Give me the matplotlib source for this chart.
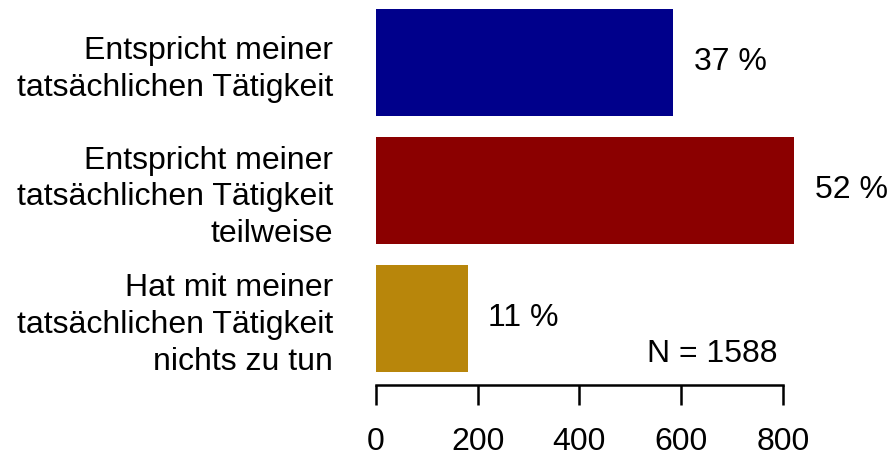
import matplotlib
matplotlib.use("Agg")
import matplotlib.pyplot as plt

plt.rcParams['font.family'] = ['Liberation Sans', 'DejaVu Sans']

# answer categories (top to bottom), counts and bar colours
categories = [
    "Entspricht meiner\ntatsächlichen Tätigkeit",
    "Entspricht meiner\ntatsächlichen Tätigkeit\nteilweise",
    "Hat mit meiner\ntatsächlichen Tätigkeit\nnichts zu tun",
]
counts = [585, 823, 180]
colors = ["#00008B", "#8B0000", "#B8860B"]
x_ticks = [0, 200, 400, 600, 800]
n_total = sum(counts)

FS = 23
W, H = 895, 459
fig = plt.figure(figsize=(W / 100, H / 100), dpi=100)

# axes placed in pixel terms: x=0 at 376px, 200 units ~ 101.7px
x0_px, bottom_px = 376, 385
px_per_unit = 101.7 / 200
xmax = 900
ax_w = xmax * px_per_unit
ax = fig.add_axes([x0_px / W, 1 - bottom_px / H, ax_w / W, bottom_px / H])

pos = list(range(len(counts)))
ax.barh(pos, counts, height=1 / 1.2, color=colors)

ax.set_xlim(0, xmax)
ax.set_ylim(2.52, -0.488)

for p, c in zip(pos, counts):
    pct = round(100 * c / n_total)
    ax.annotate(f"{pct} %", xy=(c, p), xytext=(15, 0), textcoords="offset points",
                ha="left", va="center", fontsize=FS)

ax.text(790, 2.28, f"N = {n_total}", ha="right", va="center", fontsize=FS)

for s in ["top", "right", "left"]:
    ax.spines[s].set_visible(False)
ax.spines["bottom"].set_bounds(0, 800)
ax.spines["bottom"].set_linewidth(1.8)

ax.set_xticks(x_ticks)
ax.set_xticklabels([str(t) for t in x_ticks], fontsize=FS)
ax.tick_params(axis="x", length=14.4, width=1.8, pad=16)

ax.set_yticks(pos)
ax.set_yticklabels(categories, fontsize=FS)
ax.tick_params(axis="y", length=0, pad=31)
for lbl in ax.get_yticklabels():
    lbl.set_multialignment("right")
    lbl.set_linespacing(1.3)

fig.savefig("out.png", dpi=100)
